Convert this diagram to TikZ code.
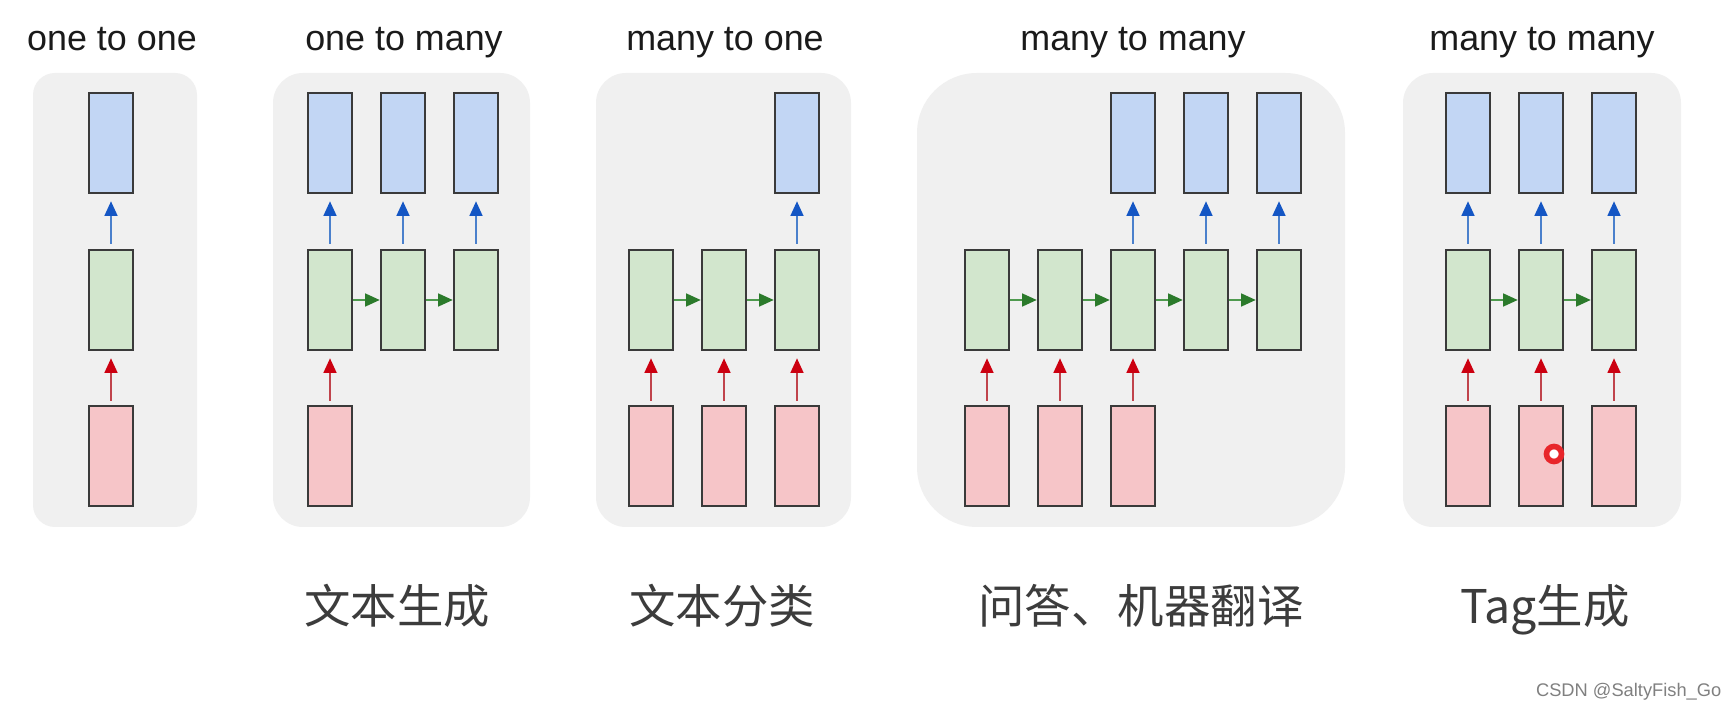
\documentclass[tikz,border=0pt]{standalone}
\usepackage{fontspec}
\setmainfont{Liberation Sans}
\newfontfamily\cjk{Noto Sans CJK SC}
\usetikzlibrary{arrows.meta}
\definecolor{panelgray}{HTML}{F0F0F0}
\definecolor{edge}{HTML}{3A3A3A}
\definecolor{outblue}{HTML}{C2D6F4}
\definecolor{hidgreen}{HTML}{D2E6CD}
\definecolor{inred}{HTML}{F6C5C8}
\definecolor{bline}{HTML}{4A80CC}
\definecolor{bhead}{HTML}{1456C4}
\definecolor{rline}{HTML}{C0444C}
\definecolor{rhead}{HTML}{CC0010}
\definecolor{gline}{HTML}{4E9A4E}
\definecolor{ghead}{HTML}{2B7A2B}
\definecolor{ink}{HTML}{1A1A1A}
\definecolor{mark}{HTML}{E8262B}

\begin{document}
\begin{tikzpicture}[x=0.01cm,y=-0.01cm,
  panel/.style={fill=panelgray,rounded corners=.3cm},
  cell/.style={draw=edge,line width=.65pt,minimum width=.44cm,minimum height=1cm,inner sep=0pt},
  outbox/.style={cell,fill=outblue},
  hidbox/.style={cell,fill=hidgreen},
  inbox/.style={cell,fill=inred},
  outarrow/.style={-{Triangle[length=4.2pt,width=3.6pt,color=bhead]},draw=bline,line width=.75pt,shorten <=.05cm,shorten >=.07cm},
  inarrow/.style={-{Triangle[length=4.2pt,width=3.6pt,color=rhead]},draw=rline,line width=.75pt,shorten <=.04cm,shorten >=.07cm},
  recarrow/.style={-{Triangle[length=4.2pt,width=3.6pt,color=ghead]},draw=gline,line width=.75pt},
  title/.style={font=\fontsize{10.2pt}{12pt}\selectfont,text=ink,anchor=base,inner sep=0pt},
  task/.style={font=\cjk\fontsize{13.2pt}{15pt}\selectfont,text=ink!85,anchor=base,inner sep=0pt}
]
\useasboundingbox[fill=white] (0,0) rectangle (1736,710);

% one to one
\fill[panel,rounded corners=.22cm] (33,73) rectangle (197,527);
\node[title] (t1) at (112,51) {one to one};
\node[outbox] (a-o1) at (111,143) {};
\node[hidbox] (a-h1) at (111,300) {};
\node[inbox] (a-i1) at (111,456) {};
\draw[outarrow] (a-h1.north) -- (a-o1.south);
\draw[inarrow] (a-i1.north) -- (a-h1.south);

% one to many
\fill[panel] (273,73) rectangle (530,527);
\node[title] (t2) at (404,51) {one to many};
\foreach \i/\x in {1/330,2/403,3/476}{
  \node[outbox] (b-o\i) at (\x,143) {};
  \node[hidbox] (b-h\i) at (\x,300) {};
  \draw[outarrow] (b-h\i.north) -- (b-o\i.south);
}
\node[inbox] (b-i1) at (330,456) {};
\draw[inarrow] (b-i1.north) -- (b-h1.south);
\foreach \i/\j in {1/2,2/3} \draw[recarrow] (b-h\i.east) -- (b-h\j.west);
\node[task] (l2) at (397,624) {文本生成};

% many to one
\fill[panel] (596,73) rectangle (851,527);
\node[title] (t3) at (725,51) {many to one};
\foreach \i/\x in {1/651,2/724,3/797}{
  \node[hidbox] (c-h\i) at (\x,300) {};
  \node[inbox] (c-i\i) at (\x,456) {};
  \draw[inarrow] (c-i\i.north) -- (c-h\i.south);
}
\node[outbox] (c-o3) at (797,143) {};
\draw[outarrow] (c-h3.north) -- (c-o3.south);
\foreach \i/\j in {1/2,2/3} \draw[recarrow] (c-h\i.east) -- (c-h\j.west);
\node[task] (l3) at (722,624) {文本分类};

% many to many (encoder-decoder)
\fill[panel,rounded corners=.6cm] (917,73) rectangle (1345,527);
\node[title] (t4) at (1133,51) {many to many};
\foreach \i/\x in {1/987,2/1060,3/1133,4/1206,5/1279}
  \node[hidbox] (d-h\i) at (\x,300) {};
\foreach \i/\x in {1/987,2/1060,3/1133}{
  \node[inbox] (d-i\i) at (\x,456) {};
  \draw[inarrow] (d-i\i.north) -- (d-h\i.south);
}
\foreach \i/\x in {3/1133,4/1206,5/1279}{
  \node[outbox] (d-o\i) at (\x,143) {};
  \draw[outarrow] (d-h\i.north) -- (d-o\i.south);
}
\foreach \i/\j in {1/2,2/3,3/4,4/5} \draw[recarrow] (d-h\i.east) -- (d-h\j.west);
\node[task] (l4) at (1141,624) {问答、机器翻译};

% many to many (synced)
\fill[panel] (1403,73) rectangle (1681,527);
\node[title] (t5) at (1542,51) {many to many};
\foreach \i/\x in {1/1468,2/1541,3/1614}{
  \node[outbox] (e-o\i) at (\x,143) {};
  \node[hidbox] (e-h\i) at (\x,300) {};
  \node[inbox] (e-i\i) at (\x,456) {};
  \draw[outarrow] (e-h\i.north) -- (e-o\i.south);
  \draw[inarrow] (e-i\i.north) -- (e-h\i.south);
}
\foreach \i/\j in {1/2,2/3} \draw[recarrow] (e-h\i.east) -- (e-h\j.west);
\node[circle,draw=mark,line width=1.6pt,fill=white,minimum size=.15cm,inner sep=0pt] (cursor) at (1554,454) {};
\node[task] (l5) at (1545,624) {Tag生成};

\node[font=\fontsize{5.2pt}{6pt}\selectfont,text=black!50,anchor=base east,inner sep=0pt] (mark) at (1722,697) {CSDN @SaltyFish\_Go};
\end{tikzpicture}
\end{document}
